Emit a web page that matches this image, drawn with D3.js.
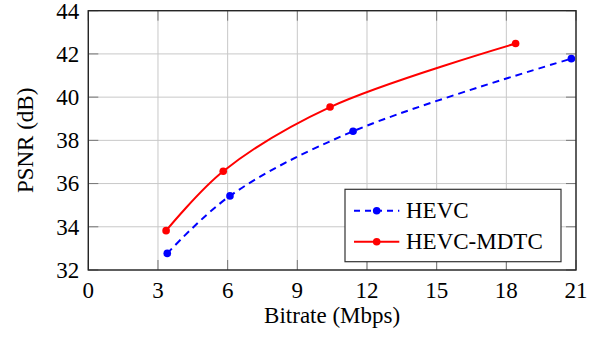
<!DOCTYPE html>
<html lang="en">
<head>
  <meta charset="UTF-8">
  <title>PSNR vs Bitrate</title>
  <script src="https://d3js.org/d3.v7.min.js"></script>
  <style>
    body { margin: 0; background: #fff; }
  </style>
</head>
<body>
  <div id="chart"></div>
  <script>
    // data
    const hevcRate = [3.4, 6.1, 11.4, 20.8];
    const hevcPsnr = [32.77, 35.43, 38.42, 41.78];
    const mdtcRate = [3.35, 5.81, 10.41, 18.4];
    const mdtcPsnr = [33.82, 36.57, 39.54, 42.48];
    const xTicks = [0, 3, 6, 9, 12, 15, 18, 21];
    const yTicks = [32, 34, 36, 38, 40, 42, 44];

    const W = 595, H = 339;
    const margin = { top: 10.7, right: 19, bottom: 69, left: 88.3 };
    const width = W - margin.left - margin.right,
      height = H - margin.top - margin.bottom;
    const fs = 23;
    const font = "'Liberation Serif', 'Times New Roman', Times, serif";

    const svg = d3.select("#chart").append("svg")
      .attr("width", W).attr("height", H)
      .attr("font-family", font);
    const g = svg.append("g")
      .attr("transform", "translate(" + margin.left + "," + margin.top + ")");

    const x = d3.scaleLinear().domain([0, 21]).range([0, width]);
    const y = d3.scaleLinear().domain([32, 44]).range([height, 0]);

    // grid
    g.selectAll(".gx").data(xTicks).enter().append("line")
      .attr("x1", d => x(d)).attr("x2", d => x(d))
      .attr("y1", 0).attr("y2", height)
      .attr("stroke", "#c8c8c8").attr("stroke-width", 1);
    g.selectAll(".gy").data(yTicks).enter().append("line")
      .attr("y1", d => y(d)).attr("y2", d => y(d))
      .attr("x1", 0).attr("x2", width)
      .attr("stroke", "#c8c8c8").attr("stroke-width", 1);

    // inward ticks on all four sides
    const tl = 10;
    const tickCol = "#777";
    xTicks.forEach(d => {
      g.append("line").attr("x1", x(d)).attr("x2", x(d)).attr("y1", height).attr("y2", height - tl)
        .attr("stroke", tickCol);
      g.append("line").attr("x1", x(d)).attr("x2", x(d)).attr("y1", 0).attr("y2", tl)
        .attr("stroke", tickCol);
    });
    yTicks.forEach(d => {
      g.append("line").attr("y1", y(d)).attr("y2", y(d)).attr("x1", 0).attr("x2", tl)
        .attr("stroke", tickCol);
      g.append("line").attr("y1", y(d)).attr("y2", y(d)).attr("x1", width).attr("x2", width - tl)
        .attr("stroke", tickCol);
    });

    // tick labels
    g.selectAll(".xl").data(xTicks).enter().append("text")
      .attr("x", d => x(d)).attr("y", height + 28)
      .attr("text-anchor", "middle").attr("font-size", fs)
      .text(d => d);
    g.selectAll(".yl").data(yTicks).enter().append("text")
      .attr("x", -9).attr("y", d => y(d) + 7.8)
      .attr("text-anchor", "end").attr("font-size", fs)
      .text(d => d);

    // axis titles
    svg.append("text")
      .attr("x", margin.left + width / 2).attr("y", 323)
      .attr("text-anchor", "middle").attr("font-size", fs)
      .text("Bitrate (Mbps)");
    svg.append("text")
      .attr("transform", "translate(33," + (margin.top + height / 2) + ") rotate(-90)")
      .attr("text-anchor", "middle").attr("font-size", fs)
      .text("PSNR (dB)");

    // series
    const line = d3.line()
      .x(d => x(d[0])).y(d => y(d[1]))
      .curve(d3.curveCatmullRom.alpha(0.5));

    const series = [
      { name: "HEVC", pts: d3.zip(hevcRate, hevcPsnr), color: "#0000ff", dash: "7,5" },
      { name: "HEVC-MDTC", pts: d3.zip(mdtcRate, mdtcPsnr), color: "#ff0000", dash: null }
    ];

    series.forEach(s => {
      g.append("path").datum(s.pts)
        .attr("d", line)
        .attr("fill", "none")
        .attr("stroke", s.color)
        .attr("stroke-width", 2)
        .attr("stroke-dasharray", s.dash);
      g.selectAll(null).data(s.pts).enter().append("circle")
        .attr("cx", d => x(d[0])).attr("cy", d => y(d[1]))
        .attr("r", 3.8).attr("fill", s.color);
    });

    // frame
    g.append("rect").attr("width", width).attr("height", height)
      .attr("fill", "none").attr("stroke", "#262626").attr("stroke-width", 1.4);

    // legend
    const lg = svg.append("g").attr("transform", "translate(345,189.3)");
    lg.append("rect").attr("width", 216).attr("height", 72.4)
      .attr("fill", "#fff").attr("stroke", "#333").attr("stroke-width", 1.2);
    series.forEach((s, i) => {
      const yy = 21.4 + i * 31;
      lg.append("line").attr("x1", 9).attr("x2", 54.3).attr("y1", yy).attr("y2", yy)
        .attr("stroke", s.color).attr("stroke-width", 2)
        .attr("stroke-dasharray", s.dash ? "6,5" : null);
      lg.append("circle").attr("cx", 31.7).attr("cy", yy).attr("r", 3.8).attr("fill", s.color);
      lg.append("text").attr("x", 61).attr("y", yy + 7.8)
        .attr("font-size", fs).text(s.name);
    });
  </script>
</body>
</html>
